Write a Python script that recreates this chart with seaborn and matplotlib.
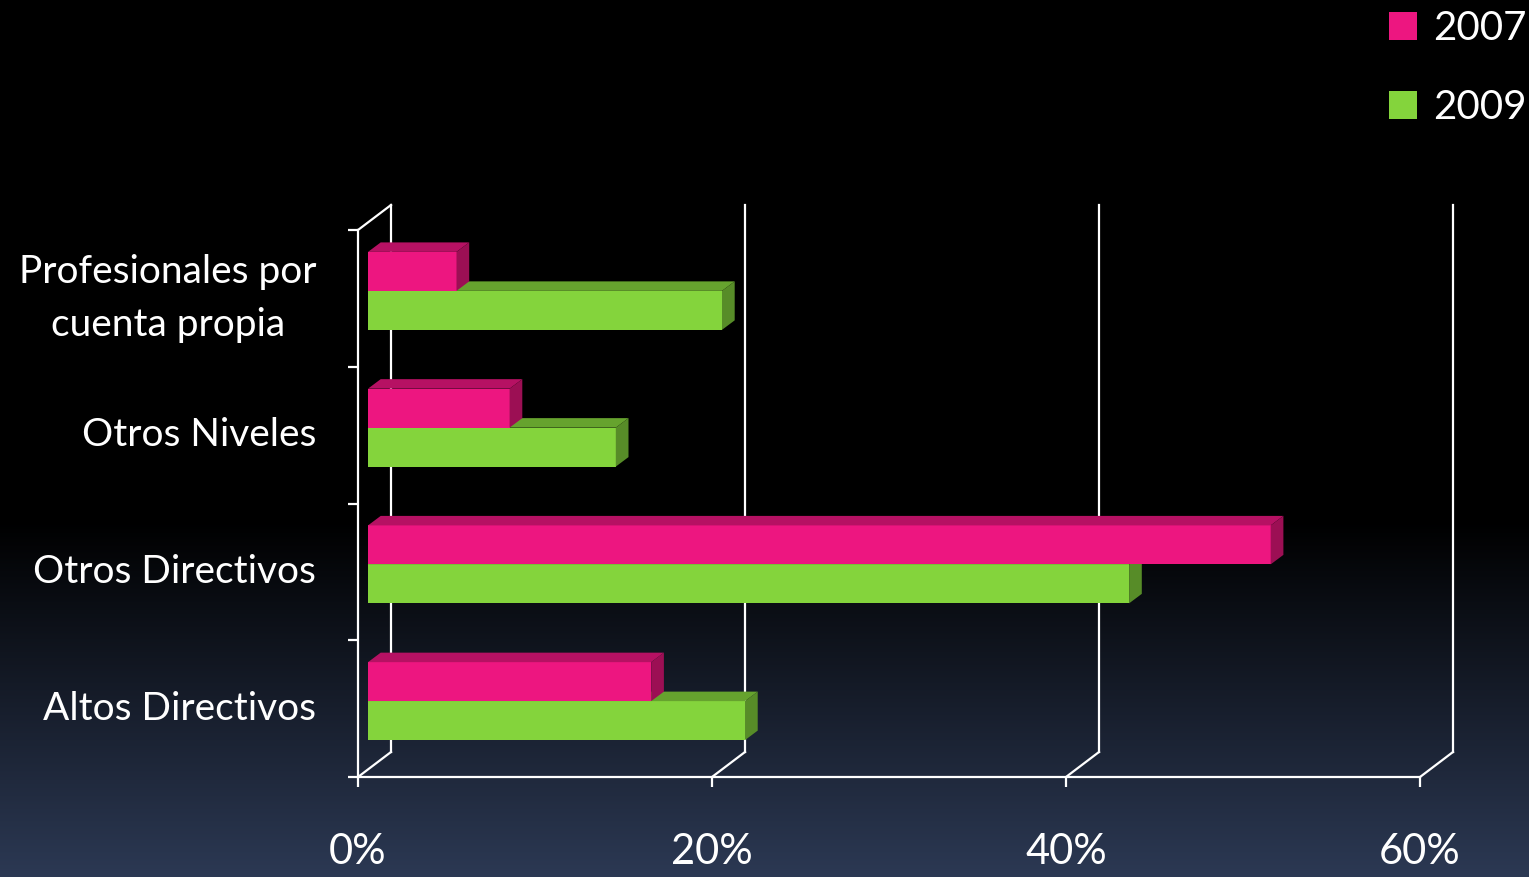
import matplotlib
matplotlib.use('Agg')
import matplotlib.pyplot as plt
import matplotlib.transforms as mtransforms
from matplotlib.patches import Polygon
from matplotlib.lines import Line2D
from matplotlib.colors import to_rgb
import numpy as np
import pandas as pd
import seaborn as sns

# datos
categorias = ['Profesionales por\ncuenta propia', 'Otros Niveles', 'Otros Directivos', 'Altos Directivos']
anios = ['2007', '2009']
valores_2007 = [5.0, 8.0, 51.0, 16.0]
valores_2009 = [20.0, 14.0, 43.0, 21.3]
ticks_x = [0, 20, 40, 60]
etiquetas_x = ['0%', '20%', '40%', '60%']

rosa = '#ED1680'
verde = '#84D43C'

df = pd.DataFrame({
    'cat': categorias * 2,
    'anio': [anios[0]] * 4 + [anios[1]] * 4,
    'valor': valores_2007 + valores_2009,
})

sns.set_theme(style='dark')
plt.rcParams['font.family'] = ['Lato', 'DejaVu Sans']

W, H = 1529, 877
fig = plt.figure(figsize=(W / 100, H / 100), dpi=100)
fig.patch.set_facecolor('black')

# fondo degradado negro -> azul oscuro
bg = fig.add_axes([0, 0, 1, 1], zorder=-10)
filas = np.arange(H)
t = np.clip((filas - 520) / (H - 520), 0, 1)[:, None]
abajo = np.array([44, 57, 84]) / 255
img = (t * abajo)[:, None, :].repeat(2, axis=1)
bg.imshow(img, aspect='auto', extent=[0, 1, 0, 1], origin='upper')
bg.axis('off')

# plano frontal del grafico
L, R, B, T = 358, 1420, 777, 230
ax = fig.add_axes([L / W, (H - B) / H, (R - L) / W, (B - T) / H])
ax.set_facecolor('none')

sns.barplot(data=df, y='cat', x='valor', hue='anio', orient='h',
            palette=[rosa, verde], width=0.57, saturation=1,
            linewidth=0, legend=False, ax=ax)
ax.set_xlim(0, 60)
ax.set_ylim(3.5, -0.5)

px_x = (R - L) / 60.0
px_y = (B - T) / 4.0
dx, dy = 12.7 / px_x, -9.5 / px_y       # profundidad de las barras
sx, sy = 10 / px_x, -7.5 / px_y         # desplazamiento hacia el fondo
trans = mtransforms.Affine2D().translate(sx, sy) + ax.transData

for p in list(ax.patches):
    x0, y0, w, h = p.get_x(), p.get_y(), p.get_width(), p.get_height()
    c = np.array(to_rgb(p.get_facecolor()))
    z = 4 if np.allclose(c, to_rgb(rosa), atol=0.02) else 3
    p.set_transform(trans)
    p.set_zorder(z)
    top = Polygon([(x0, y0), (x0 + w, y0), (x0 + w + dx, y0 + dy), (x0 + dx, y0 + dy)],
                  closed=True, facecolor=c * 0.77, lw=0, transform=trans, zorder=z)
    side = Polygon([(x0 + w, y0), (x0 + w + dx, y0 + dy), (x0 + w + dx, y0 + h + dy), (x0 + w, y0 + h)],
                   closed=True, facecolor=c * 0.66, lw=0, transform=trans, zorder=z)
    ax.add_patch(top)
    ax.add_patch(side)

# paredes 3D
bx, by = 33 / (R - L), 25 / (B - T)
lw = 1.6
kw = dict(color='white', lw=lw, transform=ax.transAxes, clip_on=False, zorder=1,
          solid_capstyle='projecting')
for v in ticks_x:
    xa = v / 60.0
    ax.plot([xa + bx, xa + bx], [by, 1 + by], **kw)
    ax.plot([xa, xa + bx], [0, by], **kw)
ax.plot([0, bx], [1, 1 + by], **kw)

for s in ['top', 'right']:
    ax.spines[s].set_visible(False)
for s in ['left', 'bottom']:
    ax.spines[s].set_color('white')
    ax.spines[s].set_linewidth(lw)
    ax.spines[s].set_zorder(1)

ax.set_xticks(ticks_x)
ax.set_xticklabels(etiquetas_x)
ax.set_yticks([-0.5, 0.5, 1.5, 2.5, 3.5])
ax.set_yticklabels([''] * 5)
ax.set_yticks([0, 1, 2, 3], minor=True)
ax.set_yticklabels(categorias, minor=True)
ax.tick_params(axis='both', which='major', colors='white', width=lw, length=7.2,
               direction='out', left=True, bottom=True)
ax.tick_params(axis='x', labelsize=30, pad=33, labelcolor='white')
ax.tick_params(axis='y', which='minor', length=0, pad=30, labelsize=28,
               labelcolor='white', left=False)
for tl in ax.get_yticklabels(minor=True):
    tl.set_multialignment('center')
    tl.set_linespacing(1.6)
    tl.set_verticalalignment('center')
ax.set_xlabel('')
ax.set_ylabel('')
ax.grid(False)

# leyenda
handles = [Line2D([], [], marker='s', ls='', markersize=19.5, color=c, markeredgewidth=0)
           for c in [rosa, verde]]
leg = fig.legend(handles, anios, loc='upper left', bbox_to_anchor=(1383 / W, 1 - 10 / H),
                 frameon=False, fontsize=29, labelcolor='white', borderpad=0,
                 borderaxespad=0, handletextpad=0.25, labelspacing=1.05, handlelength=1.0)

fig.savefig('out.png', dpi=100, facecolor='black')
